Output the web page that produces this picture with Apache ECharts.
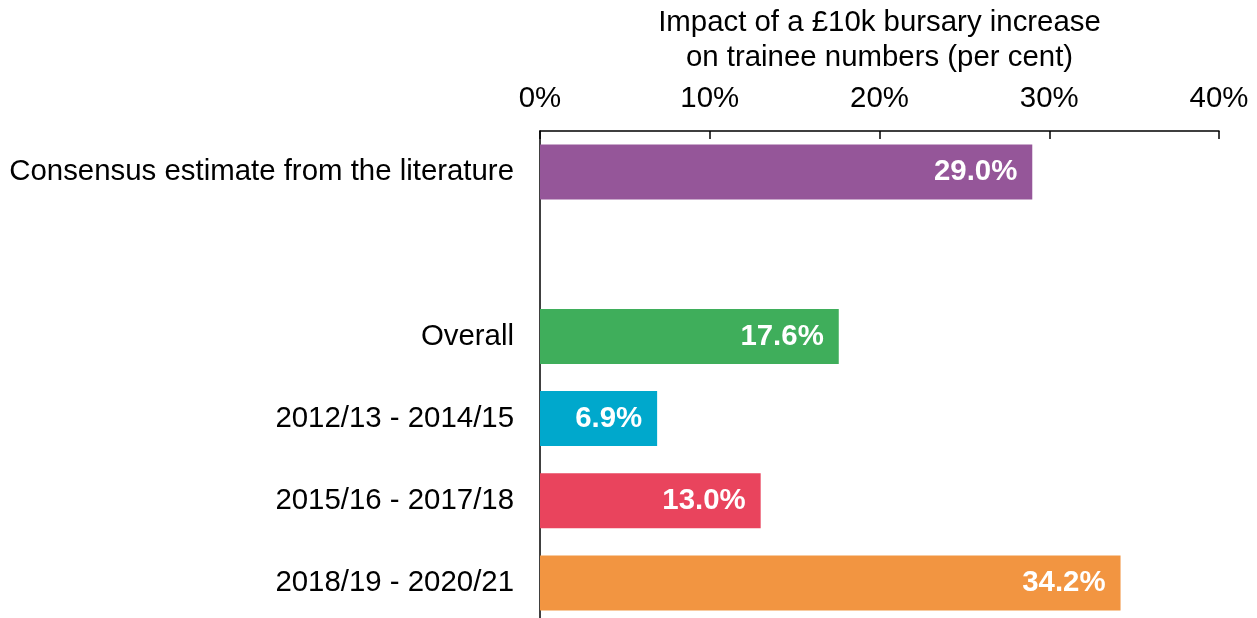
<!DOCTYPE html>
<html>
<head>
<meta charset="utf-8">
<script src="https://cdn.jsdelivr.net/npm/echarts@6/dist/echarts.min.js"></script>
<style>
  html, body { margin: 0; padding: 0; background: #fff; }
  #main { width: 1257px; height: 618px; }
</style>
</head>
<body>
<div id="main"></div>
<script type="text/javascript">
// categories (the empty one is the gap under the consensus bar)
var categories = ['Consensus estimate from the literature', '', 'Overall',
                  '2012/13 - 2014/15', '2015/16 - 2017/18', '2018/19 - 2020/21'];
var values = [29.0, null, 17.6, 6.9, 13.0, 34.2];
var barColors = ['#955699', '#ffffff', '#3fae5b', '#00a8cc', '#e9445d', '#f29541'];
var xTicks = [0, 10, 20, 30, 40];

var myChart = echarts.init(document.getElementById('main'));

var fontFam = 'Liberation Sans, Arial, sans-serif';
var fs = 29.4;

var option = {
    animation: false,
    grid: {
        left: 540,
        width: 679,
        top: 131,
        height: 493,
        containLabel: false,
        outerBoundsMode: 'none'
    },
    xAxis: {
        type: 'value',
        position: 'top',
        min: xTicks[0],
        max: xTicks[xTicks.length - 1],
        interval: 10,
        name: 'Impact of a £10k bursary increase\non trainee numbers (per cent)',
        nameLocation: 'middle',
        nameGap: 56,
        nameTextStyle: {
            color: '#000',
            fontSize: fs,
            lineHeight: 35,
            fontFamily: fontFam
        },
        axisLine: { show: true, lineStyle: { color: '#000', width: 1.5 } },
        axisTick: { show: true, inside: true, length: 8, lineStyle: { color: '#000', width: 1.5 } },
        axisLabel: {
            color: '#000',
            fontSize: fs,
            fontFamily: fontFam,
            margin: 18,
            formatter: '{value}%'
        },
        splitLine: { show: false }
    },
    yAxis: {
        type: 'category',
        inverse: true,
        data: categories,
        axisLine: { show: true, lineStyle: { color: '#000', width: 1.5 } },
        axisTick: { show: false },
        axisLabel: {
            color: '#000',
            fontSize: fs,
            fontFamily: fontFam,
            margin: 26
        }
    },
    series: [
        {
            type: 'bar',
            barCategoryGap: '33%',
            data: values.map(function (v, i) {
                return { value: v, itemStyle: { color: barColors[i] } };
            }),
            label: {
                show: true,
                position: 'insideRight',
                distance: 15,
                color: '#fff',
                fontWeight: 'bold',
                fontSize: fs,
                fontFamily: fontFam,
                formatter: function (p) {
                    return p.value == null ? '' : p.value.toFixed(1) + '%';
                }
            }
        }
    ]
};

myChart.setOption(option);
</script>
</body>
</html>
